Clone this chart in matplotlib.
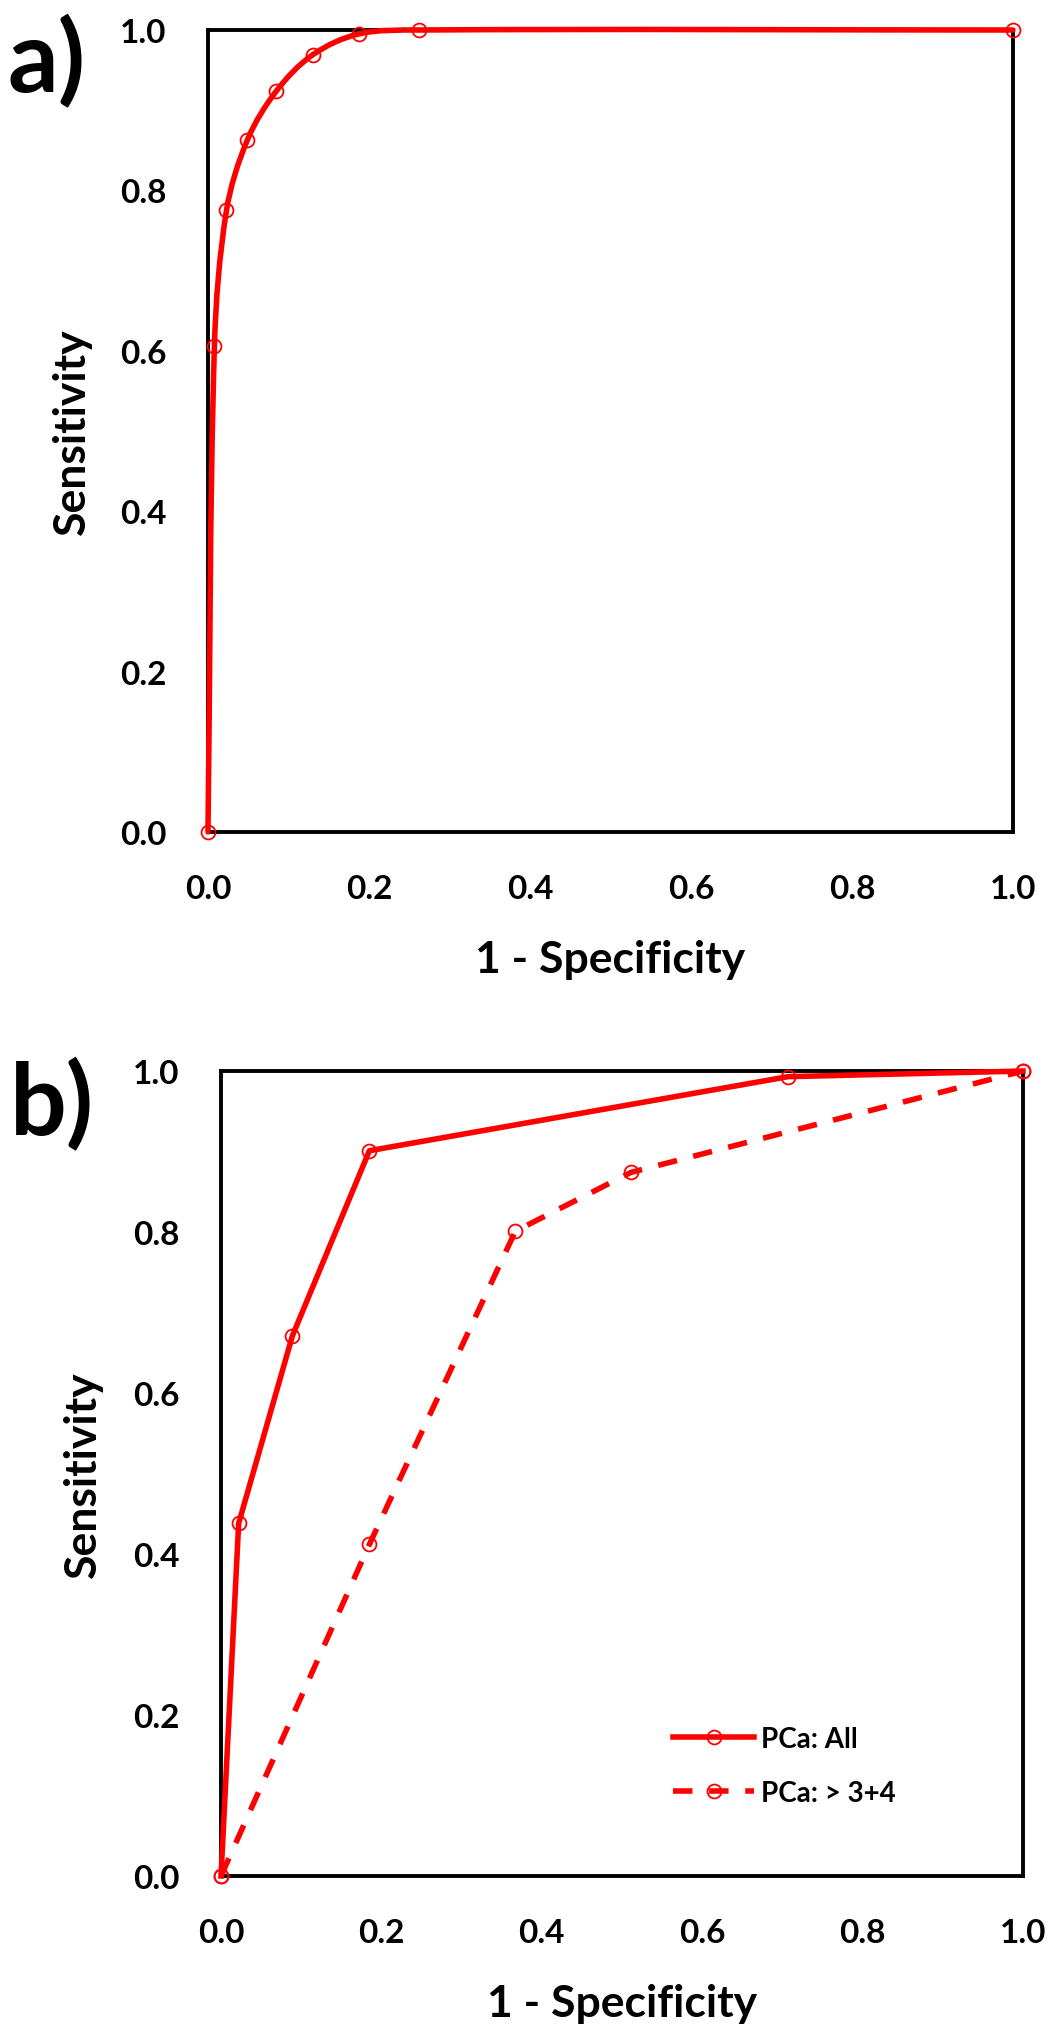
import numpy as np
import matplotlib
matplotlib.use("Agg")
import matplotlib.pyplot as plt
from matplotlib.path import Path
from matplotlib.patches import PathPatch

plt.rcParams['font.family'] = ['Lato', 'DejaVu Sans']
plt.rcParams['font.weight'] = 'bold'

# panel a: single ROC curve (smoothed line in the original)
fpr_a = [0.0, 0.008, 0.023, 0.049, 0.085, 0.130, 0.187, 0.262, 1.0]
tpr_a = [0.0, 0.606, 0.775, 0.863, 0.924, 0.969, 0.995, 1.0, 1.0]

# panel b: two ROC curves
fpr_all = [0.0, 0.022, 0.089, 0.185, 0.707, 1.0]
tpr_all = [0.0, 0.438, 0.671, 0.901, 0.993, 1.0]
fpr_34 = [0.0, 0.185, 0.367, 0.511, 1.0]
tpr_34 = [0.0, 0.412, 0.801, 0.874, 1.0]
labels_b = ['PCa: All', 'PCa: > 3+4']

ticks = [0.0, 0.2, 0.4, 0.6, 0.8, 1.0]
tick_labels = ['%.1f' % t for t in ticks]
RED = '#ff0000'


def smooth_path(x, y):
    # bezier through the points, like the "smoothed line" option of a spreadsheet
    p = np.column_stack([x, y]).astype(float)
    n = len(p)
    d = np.zeros_like(p)
    for i in range(n):
        a = p[max(i - 1, 0)]
        b = p[min(i + 1, n - 1)]
        v = b - a
        d[i] = v / np.hypot(*v)
    verts = [p[0]]
    codes = [Path.MOVETO]
    for i in range(n - 1):
        L = np.hypot(*(p[i + 1] - p[i])) / 3.0
        verts += [p[i] + d[i] * L, p[i + 1] - d[i + 1] * L, p[i + 1]]
        codes += [Path.CURVE4] * 3
    return Path(verts, codes)


def style_axes(ax, ylab_x):
    ax.set_xlim(0, 1)
    ax.set_ylim(0, 1)
    ax.set_xticks(ticks)
    ax.set_yticks(ticks)
    ax.set_xticklabels(tick_labels)
    ax.set_yticklabels(tick_labels)
    ax.tick_params(length=0, labelsize=24)
    ax.tick_params(axis='x', pad=30)
    ax.tick_params(axis='y', pad=30)
    for s in ax.spines.values():
        s.set_linewidth(2.8)
        s.set_color('black')
    ax.set_xlabel('1 - Specificity', fontsize=32, fontweight='bold')
    ax.set_ylabel('Sensitivity', fontsize=32, fontweight='bold')
    ax.xaxis.set_label_coords(0.5, -0.133)
    ax.yaxis.set_label_coords(ylab_x, 0.5)


fig = plt.figure(figsize=(10.6, 20.4), dpi=100)

# ---- a) ----
ax1 = fig.add_axes([0.1962, 0.5917, 0.7594, 0.3931])
ax1.add_patch(PathPatch(smooth_path(fpr_a, tpr_a), fill=False, ec=RED,
                        lw=4, zorder=3, clip_on=False, capstyle='round'))
ax1.plot(fpr_a, tpr_a, 'o', ms=10, mfc='none', mec=RED, mew=1.3,
         zorder=4, clip_on=False)
style_axes(ax1, -0.144)

# ---- b) ----
ax2 = fig.add_axes([0.2085, 0.0799, 0.7566, 0.3946])
ax2.plot(fpr_all, tpr_all, '-o', color=RED, lw=4, ms=10, mfc='none',
         mec=RED, mew=1.3, zorder=3, clip_on=False, label=labels_b[0])
ax2.plot(fpr_34, tpr_34, 'o', color=RED, lw=4, ms=10, mfc='none',
         mec=RED, mew=1.3, ls=(0, (3.5, 3)), zorder=3, clip_on=False,
         label=labels_b[1])
style_axes(ax2, -0.147)
ax2.legend(loc='center left', bbox_to_anchor=(0.564, 0.137), frameon=False,
           fontsize=20, handlelength=2.9, handletextpad=0.25,
           labelspacing=1.0, borderpad=0, borderaxespad=0, numpoints=1)

fig.text(7 / 1060, 1 - 92 / 2040, 'a)', fontsize=72, fontweight='bold',
         ha='left', va='baseline')
fig.text(10 / 1060, 1 - 1135 / 2040, 'b)', fontsize=72, fontweight='bold',
         ha='left', va='baseline')

fig.savefig('out.png', dpi=100, facecolor='white')
